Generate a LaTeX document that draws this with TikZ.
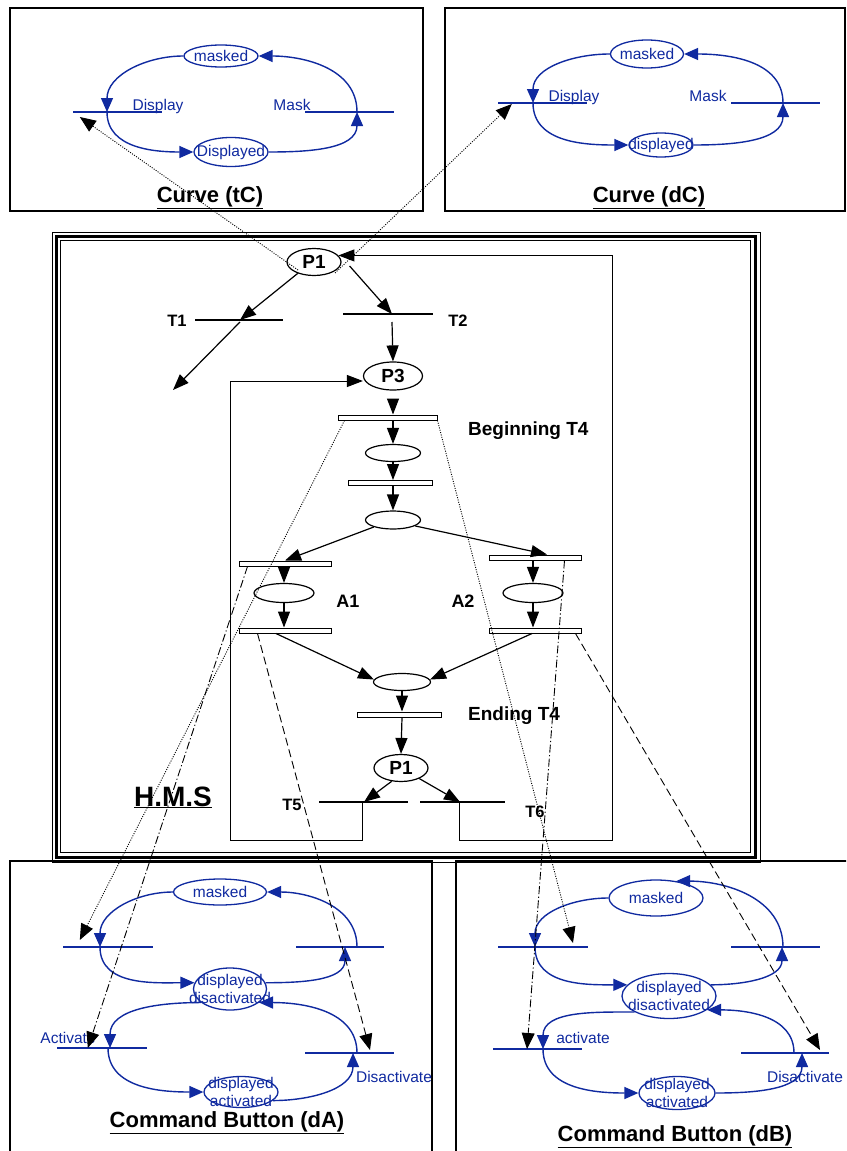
\documentclass[tikz,border=0pt]{standalone}
\usepackage{fontspec}
\setmainfont{Liberation Sans}
\usetikzlibrary{arrows.meta,shapes.geometric,calc}
\definecolor{bl}{RGB}{16,42,160}
\begin{document}
\begin{tikzpicture}[x=1pt,y=-1pt,
  place/.style={ellipse,draw,line width=1.2pt,inner sep=0pt,font=\fontsize{19}{22}\selectfont\bfseries},
  tbar/.style={rectangle,fill=black,inner sep=0pt,minimum height=2.8pt},
  hbar/.style={rectangle,draw,fill=white,line width=1pt,inner sep=0pt,minimum height=5pt},
  arr/.style={line width=1.2pt,-{Triangle[length=16pt,width=12pt]}},
  loopl/.style={line width=1pt,-{Triangle[length=16pt,width=12pt]}},
  lab/.style={font=\fontsize{16.5}{19}\selectfont\bfseries,inner sep=0pt,anchor=base},
  blab4/.style={font=\fontsize{19}{22}\selectfont\bfseries,inner sep=0pt,anchor=base west},
  bell/.style={ellipse,draw=bl,line width=1.3pt,inner sep=0pt},
  btext/.style={text=bl,font=\fontsize{15.5}{18}\selectfont,inner sep=0pt,align=center},
  blab/.style={btext,anchor=base},
  bbar/.style={rectangle,fill=bl,inner sep=0pt,minimum height=2.6pt},
  barr/.style={draw=bl,line width=1.4pt,-{Triangle[length=14pt,width=12pt]}},
  title/.style={font=\fontsize{22}{26}\selectfont\bfseries,inner sep=0pt,anchor=base},
  frame/.style={draw,line width=1.2pt},
  link/.style={line width=0.9pt,-{Triangle[length=16pt,width=13pt]}},
  dotl/.style={link,dash pattern=on 1pt off 1.4pt},
  dashl/.style={link,dash pattern=on 8pt off 4pt},
  dashdot/.style={link,dash pattern=on 8pt off 2.5pt on 1.2pt off 2.5pt}]
\useasboundingbox (0,0) rectangle (846,1151);
\clip (0,0) rectangle (846,1151);
\fill[white] (0,0) rectangle (846,1151);

% frames
\draw[frame] (10,8) rectangle (423,211);
\draw[frame] (445,8) rectangle (845,211);
\draw[frame] (10,861) rectangle (432,1160);
\draw[frame] (456,861) rectangle (860,1160);
\draw[line width=1pt] (52,232) rectangle (760,862);
\draw[line width=3pt] (56.5,236.5) rectangle (755,857.5);
\draw[line width=1pt] (60.5,240.5) rectangle (750,852.5);

% ---------- Curve (tC)
\node[bell,minimum width=74pt,minimum height=22pt,label={[btext]center:masked}] (tcM) at (221,56) {};
\node[bbar,minimum width=89pt] (tcDb) at (117.5,112) {};
\node[bbar,minimum width=89pt] (tcMb) at (349.5,112) {};
\node[bell,minimum width=74pt,minimum height=29pt,label={[btext]center:Displayed}] (tcD) at (231,152) {};
\node[blab] (tcDl) at (158,110) {Display};
\node[blab] (tcMl) at (292,110) {Mask};
\node[title] (tcT) at (210,202) {\underline{Curve (tC)}};
\draw[barr] (tcM.west) to[out=180,in=90] ([xshift=-10.5pt]tcDb.center);
\draw[barr] ([xshift=-10.5pt]tcDb.center) to[out=-90,in=180] (tcD.west);
\draw[barr] (tcD.east) to[out=0,in=-90] ([xshift=7.5pt]tcMb.center);
\draw[barr] ([xshift=7.5pt]tcMb.center) to[out=90,in=0] (tcM.east);

% ---------- Curve (dC)
\node[bell,minimum width=73pt,minimum height=28pt,label={[btext]center:masked}] (dcM) at (647,54) {};
\node[bbar,minimum width=89pt] (dcDb) at (542.5,103) {};
\node[bbar,minimum width=89pt] (dcMb) at (775.5,103) {};
\node[bell,minimum width=64pt,minimum height=24pt,label={[btext]center:displayed}] (dcD) at (661,145) {};
\node[blab] (dcDl) at (574,101) {Display};
\node[blab] (dcMl) at (708,101) {Mask};
\node[title] (dcT) at (649,202) {\underline{Curve (dC)}};
\draw[barr] (dcM.west) to[out=180,in=90] ([xshift=-9.5pt]dcDb.center);
\draw[barr] ([xshift=-9.5pt]dcDb.center) to[out=-90,in=180] (dcD.west);
\draw[barr] (dcD.east) to[out=0,in=-90] ([xshift=7.5pt]dcMb.center);
\draw[barr] ([xshift=7.5pt]dcMb.center) to[out=90,in=0] (dcM.east);

% ---------- Command Button (dA)
\node[bell,minimum width=93pt,minimum height=26pt,label={[btext]center:masked}] (daM) at (220,892) {};
\node[bbar,minimum width=90pt] (daB1) at (108,947) {};
\node[bbar,minimum width=88pt] (daB2) at (340,947) {};
\node[bell,minimum width=73pt,minimum height=42pt,label={[btext]center:{displayed\\disactivated}}] (daDD) at (230,989) {};
\node[bbar,minimum width=90pt] (daB3) at (102,1048) {};
\node[bbar,minimum width=89pt] (daB4) at (349.5,1053) {};
\node[bell,minimum width=74pt,minimum height=31pt,label={[btext]center:{displayed\\activated}}] (daDA) at (241,1092) {};
\node[blab] (daAl) at (68,1043) {Activate};
\node[blab] (daDl) at (394,1082) {Disactivate};
\node[title] (daT) at (227,1127) {\underline{Command Button (dA)}};
\draw[barr] (daM.west) to[out=180,in=90] ([xshift=-8pt]daB1.center);
\draw[barr] ([xshift=-8pt]daB1.center) to[out=-90,in=180] (daDD.170);
\draw[barr] (daDD.10) to[out=0,in=-90] ([xshift=5pt]daB2.center);
\draw[barr] ([xshift=17pt]daB2.center) to[out=90,in=0] (daM.east);
\draw[barr] (daDD.205) to[out=180,in=90] ([xshift=8pt]daB3.center);
\draw[barr] ([xshift=6pt]daB3.center) to[out=-90,in=180] (daDA.west);
\draw[barr] (daDA.-15) to[out=0,in=-90] ([xshift=3.5pt]daB4.center);
\draw[barr] ([xshift=7.5pt]daB4.center) to[out=90,in=0] (daDD.-25);

% ---------- Command Button (dB)
\node[bell,minimum width=94pt,minimum height=36pt,label={[btext]center:masked}] (dbM) at (656,898) {};
\node[bbar,minimum width=90pt] (dbB1) at (543,947) {};
\node[bbar,minimum width=89pt] (dbB2) at (775.5,947) {};
\node[bell,minimum width=94pt,minimum height=45pt,label={[btext]center:{displayed\\disactivated}}] (dbDD) at (669,996) {};
\node[bbar,minimum width=89pt] (dbB3) at (537.5,1049) {};
\node[bbar,minimum width=88pt] (dbB4) at (785,1053) {};
\node[bell,minimum width=76pt,minimum height=33pt,label={[btext]center:{displayed\\activated}}] (dbDA) at (677,1093) {};
\node[blab] (dbAl) at (583,1043) {activate};
\node[blab] (dbDl) at (805,1082) {Disactivate};
\node[title] (dbT) at (675,1141) {\underline{Command Button (dB)}};
\draw[barr] (dbM.west) to[out=180,in=90] ([xshift=-8pt]dbB1.center);
\draw[barr] ([xshift=-8pt]dbB1.center) to[out=-90,in=180] (dbDD.165);
\draw[barr] (dbDD.15) to[out=0,in=-90] ([xshift=6.5pt]dbB2.center);
\draw[barr] ([xshift=7.5pt]dbB2.center) to[out=90,in=0] (dbM.40);
\draw[barr] (dbDD.205) to[out=180,in=90] ([xshift=5.5pt]dbB3.center);
\draw[barr] ([xshift=5.5pt]dbB3.center) to[out=-90,in=180] (dbDA.west);
\draw[barr] (dbDA.east) to[out=0,in=-90] ([xshift=17pt]dbB4.center);
\draw[barr] ([xshift=9pt]dbB4.center) to[out=90,in=0] (dbDD.-20);

% ---------- H.M.S
\node[place,minimum width=54pt,minimum height=27pt] (P1a) at (314,262) {P1};
\node[tbar,minimum width=88pt] (T1) at (239,320) {};
\node[tbar,minimum width=90pt] (T2) at (388,314) {};
\node[lab] (T1l) at (177,326) {T1};
\node[lab] (T2l) at (458,326) {T2};
\coordinate (T1out) at (173,390);
\node[place,minimum width=59pt,minimum height=28pt] (P3) at (393,376) {P3};
\node[hbar,minimum width=99pt] (B4) at (387.5,417.5) {};
\node[blab4] (B4l) at (468,435) {Beginning T4};
\node[place,minimum width=55pt,minimum height=17pt] (e1) at (393,453) {};
\node[hbar,minimum width=84pt] (b2) at (390,483) {};
\node[place,minimum width=55pt,minimum height=18pt] (e2) at (393,520) {};
\node[hbar,minimum width=92pt] (A1t) at (285,563.5) {};
\node[hbar,minimum width=92pt] (A2t) at (535,557.5) {};
\node[place,minimum width=60pt,minimum height=19pt] (A1e) at (284,593) {};
\node[place,minimum width=60pt,minimum height=19pt] (A2e) at (533,593) {};
\node[hbar,minimum width=92pt] (A1b) at (285,630.5) {};
\node[hbar,minimum width=92pt] (A2b) at (535,630.5) {};
\node[lab,font=\fontsize{18}{21}\selectfont\bfseries] (A1l) at (348,607) {A1};
\node[lab,font=\fontsize{18}{21}\selectfont\bfseries] (A2l) at (463,607) {A2};
\node[place,minimum width=57pt,minimum height=17pt] (e3) at (402,682) {};
\node[hbar,minimum width=84pt] (Eb) at (399,714.5) {};
\node[blab4] (Ebl) at (468,720) {Ending T4};
\node[place,minimum width=54pt,minimum height=27pt] (P1b) at (401,768) {P1};
\node[tbar,minimum width=89pt] (T5) at (363.5,802) {};
\node[tbar,minimum width=85pt] (T6) at (462.5,802) {};
\node[lab] (T5l) at (292,810) {T5};
\node[lab] (T6l) at (535,817) {T6};
\node[font=\fontsize{28}{32}\selectfont\bfseries,inner sep=0pt,anchor=base] (hms) at (173,806) {\underline{H.M.S}};
\coordinate (c1) at (230,840);
\coordinate (c2) at (612,840);

\draw[arr] (P1a.215) -- ([xshift=1pt]T1.center);
\draw[arr] ([xshift=1pt,yshift=-2pt]T1.center) -- (T1out);
\draw[arr] ([xshift=8pt,yshift=-4pt]P1a.east) -- ([xshift=4pt]T2.center);
\draw[arr] ([xshift=4pt,yshift=-8pt]T2.center) -- (P3.north);
\draw[arr] ([yshift=-10pt]P3.south) -- (B4.north -| P3.south);
\draw[arr] (B4.south -| e1.north) -- (e1.north);
\draw[arr] (e1.south) -- (b2.north -| e1.south);
\draw[arr] (b2.south -| e2.north) -- (e2.north);
\draw[arr] (e2.200) -- (A1t.north);
\draw[arr] (e2.-15) -- ([xshift=12pt]A2t.north);
\draw[arr] (A1t.south -| A1e.north) -- (A1e.north);
\draw[arr] (A1e.south) -- (A1b.north -| A1e.south);
\draw[arr] (A2t.south -| A2e.north) -- (A2e.north);
\draw[arr] (A2e.south) -- (A2b.north -| A2e.south);
\draw[arr] ([xshift=-9pt]A1b.south) -- (e3.175);
\draw[arr] ([xshift=-3pt]A2b.south) -- (e3.5);
\draw[arr] (e3.south) -- (Eb.north -| e3.south);
\draw[arr] (Eb.south -| e3.south) -- (P1b.north);
\draw[arr] (P1b.-125) -- ([xshift=0.5pt]T5.center);
\draw[arr] (P1b.-30) -- ([xshift=-2.5pt]T6.center);
\draw[loopl] ([xshift=-1.5pt]T5.center) |- (c1) |- ([yshift=-5pt]P3.west);
\draw[loopl] ([xshift=-3.5pt]T6.center) |- (c2) |- (P1a.15);

% ---------- links between models
\draw[dotl] ([xshift=-16pt,yshift=-8pt]P1a.center) -- ([xshift=7pt,yshift=-5pt]tcDb.west);
\draw[dotl] ([xshift=21pt,yshift=-11pt]P1a.center) -- ([xshift=14pt,yshift=-1pt]dcDb.west);
\draw[dotl] ([xshift=7pt]B4.south west) -- ([xshift=17pt,yshift=7pt]daB1.west);
\draw[dotl] (B4.south east) -- ([xshift=30pt,yshift=4pt]dbB1.center);
\draw[dashdot] ([xshift=9pt]A1t.south west) -- ([xshift=31pt]daB3.west);
\draw[dashl] ([xshift=19pt]A1b.south west) -- ([xshift=20.5pt,yshift=3pt]daB4.center);
\draw[dashdot] ([xshift=-17pt]A2t.south east) -- ([xshift=-10.5pt]dbB3.center);
\draw[dashl] ([xshift=-6pt]A2b.south east) -- ([xshift=35pt,yshift=3pt]dbB4.center);
\end{tikzpicture}
\end{document}
